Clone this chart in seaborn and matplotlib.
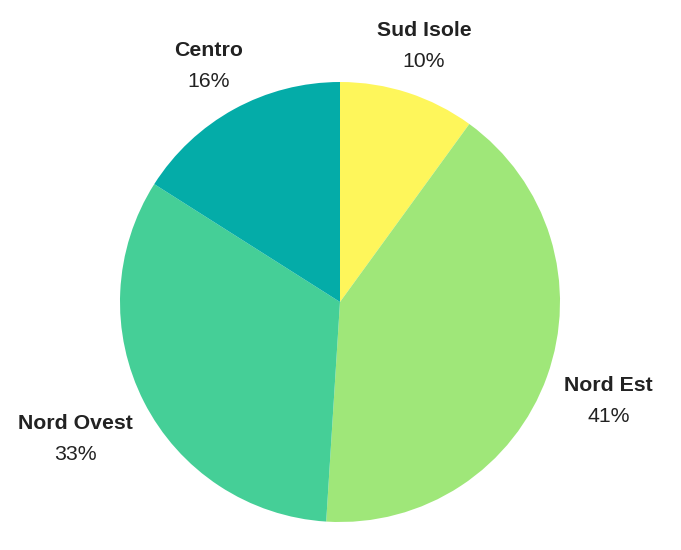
import numpy as np
import matplotlib
matplotlib.use("Agg")
import matplotlib.pyplot as plt
import seaborn as sns

regions = ["Sud Isole", "Nord Est", "Nord Ovest", "Centro"]
shares = [10, 41, 33, 16]
colors = ["#fef65b", "#9fe779", "#45cf97", "#04aca8"]

sns.set_theme(style="white")
plt.rcParams["font.family"] = ["Liberation Sans", "DejaVu Sans"]

fig = plt.figure(figsize=(6.81, 5.5), dpi=100)
ax = fig.add_axes([0, 0, 1, 1])

# work in pixel-like data units so the pie sits where the reference has it
cx, cy, R = 340, 248, 220
wedges, _ = ax.pie(shares, colors=colors, startangle=90, counterclock=False,
                   radius=R, center=(cx, cy), wedgeprops=dict(linewidth=0))
ax.set_xlim(0, 681)
ax.set_ylim(0, 550)
ax.set_aspect("equal")
ax.axis("off")

renderer = fig.canvas.get_renderer()
gap = 16
line_step = 15.5
half_h = 22
for w, name, val in zip(wedges, regions, shares):
    theta = np.deg2rad((w.theta1 + w.theta2) / 2)
    dx, dy = np.cos(theta), np.sin(theta)
    t1 = ax.text(0, 0, name, ha="center", va="center", fontsize=15.3,
                 fontweight="bold", color="#222222")
    t2 = ax.text(0, 0, f"{val}%", ha="center", va="center", fontsize=15.3,
                 color="#222222")
    width = max(t1.get_window_extent(renderer).width,
                t2.get_window_extent(renderer).width)
    dist = R + gap + abs(dx) * width / 2 + abs(dy) * half_h
    x, y = cx + dist * dx, cy + dist * dy - 2.5
    t1.set_position((x, y + line_step))
    t2.set_position((x, y - line_step))

fig.savefig("out.png", dpi=100, facecolor="white")
